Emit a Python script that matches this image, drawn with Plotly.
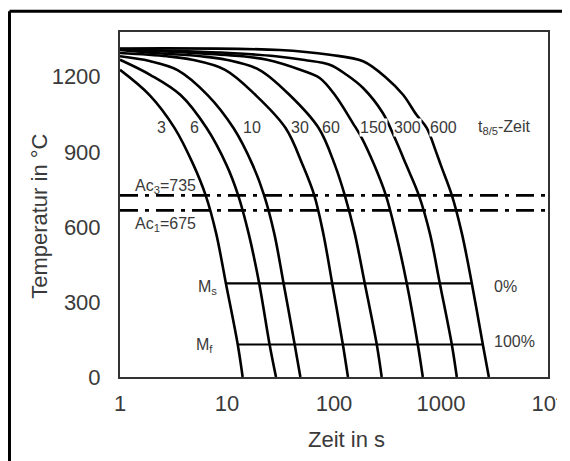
import plotly.graph_objects as go

# ---- data ----
t85_labels = ["3", "6", "10", "30", "60", "150", "300", "600"]

c3_t = [1, 1.89, 3.24, 4.87, 6.31, 7.91, 9.77, 12.6, 14.0]
c3_T = [1228, 1127, 995, 847, 727, 575, 374, 130, 0]

c6_t = [1, 1.93, 3.68, 6.45, 9.91, 12.7, 15.9, 20.0, 25.0, 28.7]
c6_T = [1268, 1207, 1127, 995, 847, 727, 575, 374, 130, 0]

c10_t = [1, 1.89, 3.45, 6.59, 11.5, 17.4, 22.2, 27.6, 33.8, 42.9, 48.5]
c10_T = [1282, 1263, 1227, 1127, 995, 847, 727, 575, 374, 130, 0]

c30_t = [1, 2.75, 4.72, 9.60, 18.5, 35.3, 51.0, 65.3, 79.3, 96.2, 121, 135]
c30_T = [1295, 1282, 1268, 1228, 1127, 995, 847, 727, 575, 374, 130, 0]

c60_t = [1, 2.08, 5.72, 9.81, 20.0, 38.5, 71.9, 102, 126, 156, 194, 251, 279]
c60_T = [1307, 1295, 1282, 1268, 1228, 1127, 995, 847, 727, 575, 374, 130, 0]

c150_t = [1, 5.03, 13.9, 23.7, 48.3, 73.5, 102, 150, 182, 238, 305, 378, 479, 607, 676]
c150_T = [1309, 1295, 1282, 1268, 1228, 1195, 1127, 1015, 955, 847, 727, 575, 374, 130, 0]

c300_t = [1, 10.5, 28.5, 53.2, 91.2, 131, 187, 286, 370, 474, 620, 786, 975, 1262, 1405]
c300_T = [1311, 1295, 1282, 1267, 1248, 1208, 1155, 1055, 955, 847, 727, 575, 374, 130, 0]

c600_t = [1, 31.1, 91.2, 187, 309, 442, 590, 737, 894, 996, 1262, 1565, 1942, 2460, 2800]
c600_T = [1313, 1307, 1288, 1262, 1195, 1128, 1048, 995, 903, 847, 727, 575, 374, 130, 0]

curves_t = [c3_t, c6_t, c10_t, c30_t, c60_t, c150_t, c300_t, c600_t]
curves_T = [c3_T, c6_T, c10_T, c30_T, c60_T, c150_T, c300_T, c600_T]

ac3_line = 726   # drawn position of Ac3 line
ac1_line = 666   # drawn position of Ac1 line
ms_T = 374       # martensite start line
mf_T = 130       # martensite finish line

x_tickvals = [1, 10, 100, 1000, 10000]
x_ticktext = ["1", "10", "100", "1000", "10<sup>4</sup>"]
y_tickvals = [0, 300, 600, 900, 1200]
y_ticktext = ["0", "300", "600", "900", "1200"]

FONT = "Arial, Liberation Sans, sans-serif"
TXT = "#3a3a3a"

fig = go.Figure()

for ts, Ts, name in zip(curves_t, curves_T, t85_labels):
    fig.add_trace(go.Scatter(x=ts, y=Ts, mode="lines", name=name,
                             line=dict(color="black", width=2.6, shape="spline", smoothing=1.0),
                             hoverinfo="skip", showlegend=False))

# Ac3 / Ac1 dash-dot lines across the full range
for yv in (ac3_line, ac1_line):
    fig.add_trace(go.Scatter(x=[x_tickvals[0], x_tickvals[-1]], y=[yv, yv], mode="lines",
                             line=dict(color="black", width=2.6, dash="18px,7px,4px,7px"),
                             hoverinfo="skip", showlegend=False))

# Ms / Mf lines from first to last curve
def t_at(ts, Ts, T):
    return ts[Ts.index(T)]

for Tv in (ms_T, mf_T):
    fig.add_trace(go.Scatter(x=[t_at(curves_t[0], curves_T[0], Tv), t_at(curves_t[-1], curves_T[-1], Tv)],
                             y=[Tv, Tv], mode="lines",
                             line=dict(color="black", width=2.2),
                             hoverinfo="skip", showlegend=False))

# ---- annotations ----
ann = []
label_logx = [0.385, 0.697, 1.233, 1.686, 1.976, 2.365, 2.683, 3.02]
for lx, lab in zip(label_logx, t85_labels):
    big = lab in ("150", "300", "600")
    ann.append(dict(x=lx, y=998, xref="x", yref="y", text=lab, showarrow=False,
                    font=dict(family=FONT, size=16, color=TXT),
                    bgcolor="white" if big else None, borderpad=0))
ann.append(dict(x=3.597, y=998, xref="x", yref="y", text="t<sub>8/5</sub>-Zeit", showarrow=False,
                font=dict(family=FONT, size=16, color=TXT)))
ann.append(dict(x=0.117, y=761, xref="x", yref="y", text="Ac<sub>3</sub>=735", showarrow=False,
                xanchor="left", font=dict(family=FONT, size=16, color=TXT)))
ann.append(dict(x=0.117, y=611, xref="x", yref="y", text="Ac<sub>1</sub>=675", showarrow=False,
                xanchor="left", font=dict(family=FONT, size=16, color=TXT)))
ann.append(dict(x=0.712, y=357, xref="x", yref="y", text="M<sub>s</sub>", showarrow=False,
                xanchor="left", font=dict(family=FONT, size=16, color=TXT)))
ann.append(dict(x=0.695, y=127, xref="x", yref="y", text="M<sub>f</sub>", showarrow=False,
                xanchor="left", font=dict(family=FONT, size=16, color=TXT)))
ann.append(dict(x=3.472, y=360, xref="x", yref="y", text="0%", showarrow=False,
                xanchor="left", font=dict(family=FONT, size=16, color=TXT)))
ann.append(dict(x=3.472, y=140, xref="x", yref="y", text="100%", showarrow=False,
                xanchor="left", font=dict(family=FONT, size=16, color=TXT)))
# axis titles
ann.append(dict(x=0.529, y=-0.18, xref="paper", yref="paper", text="Zeit in s", showarrow=False,
                xanchor="center", yanchor="middle", font=dict(family=FONT, size=22, color=TXT)))
ann.append(dict(x=-0.187, y=0.467, xref="paper", yref="paper", text="Temperatur in °C", showarrow=False,
                textangle=-90, xanchor="center", yanchor="middle",
                font=dict(family=FONT, size=22, color=TXT)))

shapes = [
    # outer frame (top and left edges visible)
    dict(type="line", xref="paper", yref="paper", x0=-0.2582, y0=1.06, x1=1.2, y1=1.06,
         line=dict(color="black", width=3)),
    dict(type="line", xref="paper", yref="paper", x0=-0.2582, y0=1.06, x1=-0.2582, y1=-0.3,
         line=dict(color="black", width=3)),
    # cropped right edge
    dict(type="rect", xref="paper", yref="paper", x0=1.021, x1=1.2, y0=-0.3, y1=-0.01,
         fillcolor="white", line=dict(width=0), layer="above"),
]

# the page body has an 8px margin, so the figure is sized to fill the rest of the window
fig.update_layout(
    width=562, height=453,
    margin=dict(l=112, r=22, t=24, b=84),
    paper_bgcolor="white", plot_bgcolor="white",
    annotations=ann, shapes=shapes,
    font=dict(family=FONT, color=TXT),
    xaxis=dict(type="log", range=[0, 4], tickvals=x_tickvals, ticktext=x_ticktext,
               showgrid=False, zeroline=False, showline=True, mirror=True,
               linecolor="#333", linewidth=2, ticks="", ticklabelstandoff=6,
               tickfont=dict(family=FONT, size=22, color=TXT), automargin=False),
    yaxis=dict(range=[0, 1379], tickvals=y_tickvals, ticktext=y_ticktext,
               showgrid=False, zeroline=False, showline=True, mirror=True,
               linecolor="#333", linewidth=2, ticks="", ticklabelstandoff=13,
               tickfont=dict(family=FONT, size=22, color=TXT), automargin=False),
)

fig.write_html("out.html")
